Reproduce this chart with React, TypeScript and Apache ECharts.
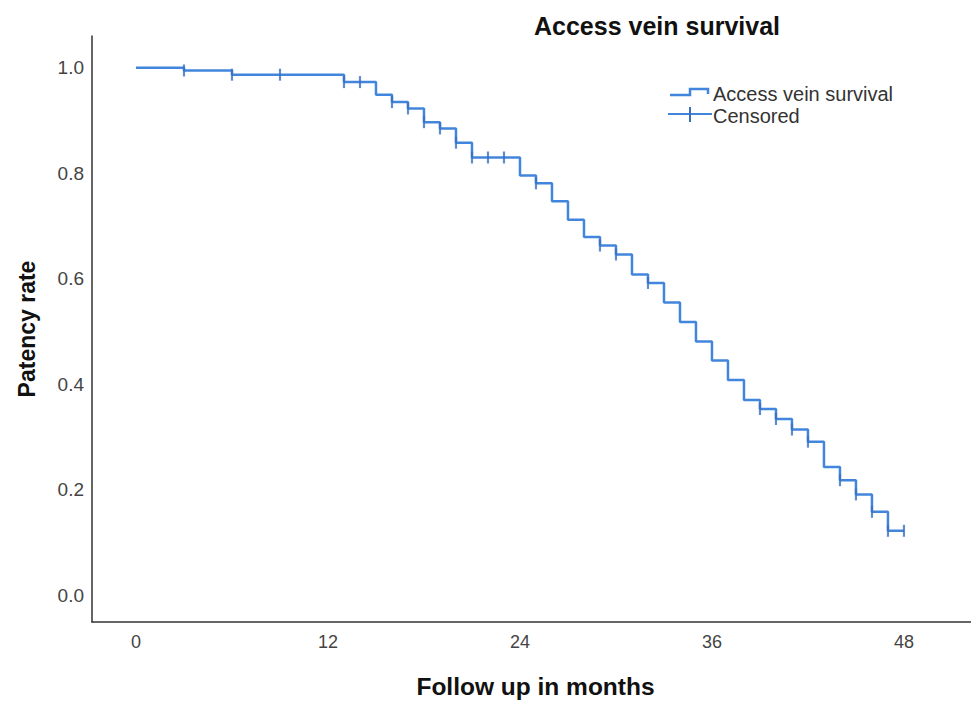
import React, { useEffect, useRef } from "react";
import * as echarts from "echarts";

const eventTimes = [0, 3, 6, 13, 15, 16, 17, 18, 19, 20, 21, 24, 25, 26, 27, 28, 29, 30, 31, 32, 33, 34, 35, 36, 37, 38, 39, 40, 41, 42, 43, 44, 45, 46, 47, 48];
const survival = [1.0, 0.995, 0.987, 0.973, 0.949, 0.935, 0.923, 0.897, 0.885, 0.858, 0.83, 0.796, 0.781, 0.747, 0.712, 0.679, 0.663, 0.646, 0.608, 0.592, 0.555, 0.518, 0.481, 0.445, 0.408, 0.37, 0.353, 0.334, 0.314, 0.291, 0.243, 0.218, 0.191, 0.158, 0.122, 0.122];
const censorTimes = [3, 6, 9, 13, 14, 16, 17, 18, 19, 20, 21, 22, 23, 25, 29, 30, 32, 39, 40, 41, 42, 44, 45, 46, 47, 48];
const xTicks = [0, 12, 24, 36, 48];
const yTicks = [0, 0.2, 0.4, 0.6, 0.8, 1.0];

const FONT = "'Liberation Sans', Arial, sans-serif";
const BLUE = "#4186dc";

function levelAt(t: number): number {
  let v = survival[0];
  for (let i = 0; i < eventTimes.length; i++) {
    if (eventTimes[i] <= t) v = survival[i];
  }
  return v;
}

export default function App() {
  const ref = useRef<HTMLDivElement>(null);
  useEffect(() => {
    if (!ref.current) return;
    const chart = echarts.init(ref.current, null, { renderer: "svg" });
    const stepData = eventTimes.map((t, i) => [t, survival[i]]);
    const censorData = censorTimes.map((t) => [t, levelAt(t)]);
    chart.setOption({
      animation: false,
      backgroundColor: "#ffffff",
      title: {
        text: "Access vein survival",
        left: 652,
        top: 8,
        textAlign: "center",
        textStyle: { fontFamily: FONT, fontWeight: "bold", fontSize: 25, color: "#111" },
      },
      grid: { left: 92, right: 0, top: 36, bottom: 79, containLabel: false },
      xAxis: {
        type: "value",
        min: -2.75,
        max: 52.19,
        name: "Follow up in months",
        nameLocation: "middle",
        nameGap: 52,
        nameTextStyle: { fontFamily: FONT, fontWeight: "bold", fontSize: 24.5, color: "#111", padding: [0, 0, 0, 8] },
        axisLine: { show: true, onZero: false, lineStyle: { color: "#333", width: 1.5 } },
        axisTick: { show: false },
        splitLine: { show: false },
        axisLabel: {
          customValues: xTicks,
          margin: 11,
          fontFamily: "'Liberation Sans Narrow', 'Liberation Sans', Arial, sans-serif",
          fontSize: 18,
          color: "#444",
        },
      },
      yAxis: {
        type: "value",
        min: -0.051,
        max: 1.0604,
        name: "Patency rate",
        nameLocation: "middle",
        nameGap: 54,
        nameTextStyle: { fontFamily: FONT, fontWeight: "bold", fontSize: 23, color: "#111" },
        axisLine: { show: true, onZero: false, lineStyle: { color: "#333", width: 1.5 } },
        axisTick: { show: false },
        splitLine: { show: false },
        axisLabel: {
          customValues: yTicks,
          margin: 8,
          fontFamily: FONT,
          fontSize: 19,
          color: "#444",
          formatter: (v: number) => v.toFixed(1),
        },
      },
      series: [
        {
          name: "Access vein survival",
          type: "line",
          step: "end",
          data: stepData,
          showSymbol: false,
          symbol: "none",
          lineStyle: { color: BLUE, width: 2.5 },
          z: 2,
        },
        {
          name: "Censored",
          type: "scatter",
          data: censorData,
          symbol: "rect",
          symbolSize: [2.2, 12],
          itemStyle: { color: "#3a6fbe" },
          z: 3,
        },
      ],
      graphic: [
        {
          type: "polyline",
          shape: { points: [[670, 95], [690, 95], [690, 89], [708, 89], [708, 94]] },
          style: { stroke: BLUE, lineWidth: 2.5, fill: "none" },
        },
        {
          type: "text",
          x: 713,
          y: 94,
          style: { text: "Access vein survival", font: `20px ${FONT}`, fill: "#333", textVerticalAlign: "middle" },
        },
        {
          type: "line",
          shape: { x1: 668, y1: 114, x2: 712, y2: 114 },
          style: { stroke: BLUE, lineWidth: 2 },
        },
        {
          type: "line",
          shape: { x1: 690, y1: 107, x2: 690, y2: 122 },
          style: { stroke: "#3a6fbe", lineWidth: 2 },
        },
        {
          type: "text",
          x: 713,
          y: 116,
          style: { text: "Censored", font: `20px ${FONT}`, fill: "#333", textVerticalAlign: "middle" },
        },
      ],
    });
    return () => chart.dispose();
  }, []);
  return <div ref={ref} style={{ width: 971, height: 704, position: "fixed", left: 0, top: 0 }} />;
}
